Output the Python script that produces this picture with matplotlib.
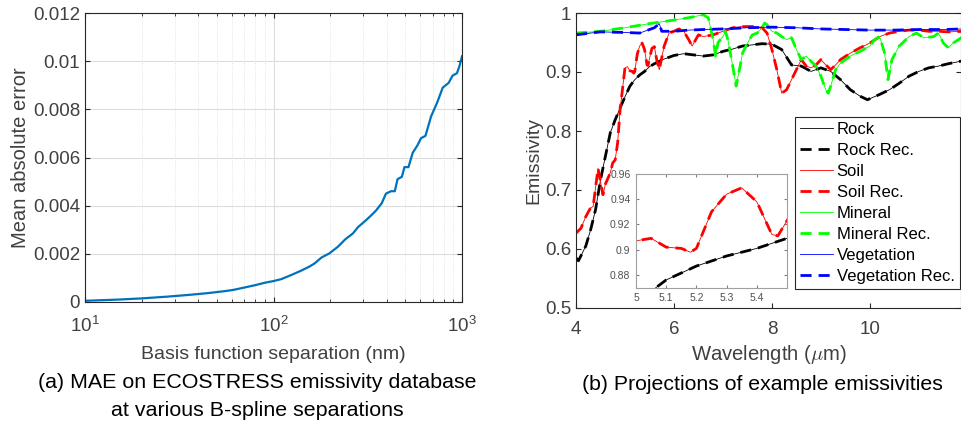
import numpy as np
import matplotlib.pyplot as plt

plt.rcParams['font.family'] = ['Liberation Sans', 'DejaVu Sans']
plt.rcParams['mathtext.fontset'] = 'cm'

# ---- (a) MAE vs B-spline separation
sep = [10, 15, 20, 27, 35, 45, 55, 61, 70, 80, 90, 100, 110, 125, 140, 155, 165, 180,
       198, 220, 240, 264, 280, 310, 330, 350, 375, 395, 420, 440, 455, 480, 495, 520,
       548, 580, 606, 640, 685, 740, 790, 850, 891, 940, 970, 1000]
mae = [0.00005, 0.0001, 0.00015, 0.00022, 0.00029, 0.00037, 0.00045, 0.0005, 0.0006,
       0.0007, 0.0008, 0.00087, 0.00095, 0.00113, 0.0013, 0.00147, 0.0016, 0.00185,
       0.00202, 0.0023, 0.0026, 0.00285, 0.0031, 0.0034, 0.0036, 0.0038, 0.0041, 0.0045,
       0.0046, 0.0046, 0.0051, 0.0052, 0.0056, 0.0056, 0.0062, 0.0065, 0.0068, 0.0069,
       0.0077, 0.0083, 0.0089, 0.0091, 0.0094, 0.0095, 0.0098, 0.0102]

# ---- (b) emissivity spectra (wavelength in um)
rock_wl = [4.0, 4.05, 4.2, 4.3, 4.4, 4.5, 4.6, 4.7, 4.8, 4.9, 5.0, 5.1, 5.2, 5.3, 5.4, 5.5,
           5.6, 5.8, 6.0, 6.2, 6.4, 6.6, 6.8, 7.0, 7.2, 7.4, 7.6, 7.8, 8.0, 8.2, 8.4, 8.6,
           8.8, 9.0, 9.2, 9.4, 9.6, 9.8, 9.95, 10.2, 10.4, 10.6, 10.8, 11.0, 11.2, 11.4,
           11.6, 11.9]
rock = [0.585, 0.58, 0.605, 0.633, 0.667, 0.717, 0.757, 0.797, 0.819, 0.839, 0.858, 0.876,
        0.887, 0.895, 0.901, 0.909, 0.914, 0.922, 0.928, 0.931, 0.929, 0.927, 0.929, 0.935,
        0.939, 0.944, 0.946, 0.948, 0.947, 0.938, 0.912, 0.91, 0.901, 0.907, 0.901, 0.887,
        0.87, 0.859, 0.853, 0.862, 0.87, 0.881, 0.893, 0.901, 0.907, 0.91, 0.914, 0.919]

soil_wl = [4.0, 4.1, 4.2, 4.3, 4.35, 4.45, 4.55, 4.6, 4.7, 4.75, 4.8, 4.85, 4.9, 5.0,
           5.05, 5.1, 5.15, 5.18, 5.2, 5.25, 5.3, 5.35, 5.4, 5.45, 5.47, 5.5, 5.55, 5.6,
           5.65, 5.7, 5.8, 5.9, 6.0, 6.1, 6.2, 6.3, 6.37, 6.5, 6.6, 6.8, 7.0, 7.2, 7.4,
           7.6, 7.8, 7.9, 8.0, 8.1, 8.2, 8.3, 8.4, 8.5, 8.6, 8.7, 8.8, 8.9, 9.0, 9.1, 9.2,
           9.3, 9.4, 9.6, 9.8, 10.0, 10.2, 10.4, 10.6, 10.8, 11.0, 11.2, 11.4, 11.6, 11.9]
soil = [0.627, 0.635, 0.655, 0.67, 0.672, 0.737, 0.692, 0.71, 0.729, 0.746, 0.751, 0.78,
        0.836, 0.907, 0.909, 0.902, 0.901, 0.898, 0.901, 0.93, 0.944, 0.949, 0.938, 0.912,
        0.911, 0.923, 0.94, 0.943, 0.92, 0.904, 0.944, 0.966, 0.969, 0.973, 0.969, 0.955,
        0.944, 0.963, 0.96, 0.963, 0.969, 0.975, 0.977, 0.977, 0.975, 0.966, 0.938, 0.904,
        0.864, 0.87, 0.887, 0.904, 0.921, 0.91, 0.907, 0.912, 0.921, 0.912, 0.904, 0.912,
        0.921, 0.932, 0.941, 0.949, 0.96, 0.966, 0.969, 0.971, 0.971, 0.969, 0.969, 0.968,
        0.969]

mineral_wl = [4.0, 4.5, 5.0, 5.5, 6.0, 6.3, 6.6, 6.7, 6.8, 6.85, 6.9, 7.0, 7.05, 7.1, 7.2,
              7.27, 7.35, 7.4, 7.5, 7.6, 7.7, 7.8, 7.85, 7.9, 8.0, 8.1, 8.2, 8.3, 8.4, 8.5,
              8.6, 8.7, 8.8, 8.9, 9.0, 9.1, 9.15, 9.2, 9.3, 9.4, 9.6, 9.8, 10.0, 10.1, 10.2,
              10.3, 10.37, 10.45, 10.6, 10.8, 10.95, 11.1, 11.3, 11.4, 11.5, 11.6, 11.7, 11.9]
mineral = [0.966, 0.969, 0.975, 0.982, 0.988, 0.992, 0.997, 0.992, 0.955, 0.927, 0.95, 0.96,
           0.969, 0.955, 0.91, 0.876, 0.91, 0.932, 0.949, 0.963, 0.966, 0.975, 0.983, 0.98,
           0.969, 0.966, 0.96, 0.955, 0.958, 0.938, 0.921, 0.927, 0.918, 0.91, 0.893, 0.87,
           0.864, 0.876, 0.904, 0.915, 0.927, 0.935, 0.944, 0.955, 0.96, 0.932, 0.887, 0.921,
           0.944, 0.96, 0.966, 0.958, 0.96, 0.966, 0.949, 0.941, 0.949, 0.96]

veg_wl = [4.0, 4.5, 5.0, 5.3, 5.6, 5.7, 5.75, 6.0, 6.3, 6.6, 7.0, 7.5, 8.0, 8.5, 9.0, 9.5,
          10.0, 10.5, 11.0, 11.5, 11.9]
veg = [0.963, 0.968, 0.967, 0.966, 0.975, 0.982, 0.969, 0.969, 0.971, 0.972, 0.973, 0.975,
       0.976, 0.975, 0.973, 0.972, 0.971, 0.971, 0.972, 0.972, 0.973]

tick_col = '#262626'
lab_col = '#404040'
fig = plt.figure(figsize=(9.61, 4.24), dpi=100)

# ---------- left panel
ax1 = fig.add_axes([85 / 961, 1 - 302 / 424, 377 / 961, 289 / 424])
ax1.plot(sep, mae, color='#0072BD', lw=1.6)
ax1.set_xscale('log')
ax1.set_xlim(10, 1000)
ax1.set_ylim(0, 0.012)
ax1.set_yticks([0, 0.002, 0.004, 0.006, 0.008, 0.01, 0.012])
ax1.set_yticklabels(['0', '0.002', '0.004', '0.006', '0.008', '0.01', '0.012'])
ax1.grid(True, which='major', color='#dcdcdc', lw=0.8)
ax1.grid(True, which='minor', axis='x', color='#dcdcdc', lw=0.6, ls=':')
ax1.set_axisbelow(True)
ax1.tick_params(which='both', direction='in', top=True, right=True, labelsize=13.5,
                colors=tick_col, labelcolor=lab_col)
ax1.tick_params(axis='x', which='both', pad=10)
ax1.tick_params(which='minor', length=2)
ax1.set_xlabel('Basis function separation (nm)', fontsize=14, color=lab_col, labelpad=7)
ax1.set_ylabel('Mean absolute error', fontsize=14.5, color=lab_col, labelpad=2)
for s in ax1.spines.values():
    s.set_color(tick_col)
    s.set_linewidth(0.8)

fig.text(257 / 961, 1 - 383 / 424, '(a) MAE on ECOSTRESS emissivity database',
         ha='center', va='center', fontsize=15.4)
fig.text(257 / 961, 1 - 410 / 424, 'at various B-spline separations',
         ha='center', va='center', fontsize=15.4)

# ---------- right panel
ax2 = fig.add_axes([576 / 961, 1 - 308 / 424, 385 / 961, 295 / 424])
specs = [(rock_wl, rock, 'k', 'Rock'), (soil_wl, soil, 'r', 'Soil'),
         (mineral_wl, mineral, '#00ff00', 'Mineral'), (veg_wl, veg, 'b', 'Vegetation')]
for wl, e, c, name in specs:
    ax2.plot(wl, e, color=c, lw=0.6, label=name)
    ax2.plot(wl, e, color=c, lw=2.0, ls=(0, (4, 2.5)), label=name + ' Rec.')
ax2.set_xlim(4, 11.86)
ax2.set_ylim(0.5, 1)
ax2.set_xticks([4, 6, 8, 10])
ax2.set_yticks([0.5, 0.6, 0.7, 0.8, 0.9, 1])
ax2.set_yticklabels(['0.5', '0.6', '0.7', '0.8', '0.9', '1'])
ax2.tick_params(direction='in', top=True, right=True, labelsize=13.5,
                colors=tick_col, labelcolor=lab_col)
ax2.tick_params(axis='x', pad=9)
ax2.set_xlabel(r'Wavelength ($\mu$m)', fontsize=14.6, color=lab_col, labelpad=4)
ax2.set_ylabel('Emissivity', fontsize=14, color=lab_col, labelpad=2)
for s in ax2.spines.values():
    s.set_color(tick_col)
    s.set_linewidth(0.8)
leg = ax2.legend(loc='upper left', bbox_to_anchor=((795 - 576) / 385, (308 - 117) / 295),
                 fontsize=12, handlelength=2.0, handletextpad=0.2, labelspacing=0.36,
                 borderpad=0.3, fancybox=False, framealpha=1, borderaxespad=0)
leg.get_frame().set_edgecolor(tick_col)
leg.get_frame().set_linewidth(0.8)

fig.text(762 / 961, 1 - 384 / 424, '(b) Projections of example emissivities',
         ha='center', va='center', fontsize=15.3)

# ---------- inset
ax3 = fig.add_axes([636 / 961, 1 - 287.5 / 424, 151 / 961, 113.5 / 424])
for wl, e, c, name in specs[:2]:
    ax3.plot(wl, e, color=c, lw=0.6)
    ax3.plot(wl, e, color=c, lw=2.0, ls=(0, (4, 2.5)))
ax3.set_xlim(5, 5.5)
ax3.set_ylim(0.87, 0.96)
ax3.set_xticks([5, 5.1, 5.2, 5.3, 5.4])
ax3.set_xticklabels(['5', '5.1', '5.2', '5.3', '5.4'])
ax3.set_yticks([0.88, 0.9, 0.92, 0.94, 0.96])
ax3.set_yticklabels(['0.88', '0.9', '0.92', '0.94', '0.96'])
ax3.tick_params(direction='in', top=True, right=True, labelsize=7.5, length=2.5,
                colors='#808080', labelcolor='#505050', pad=4)
for s in ax3.spines.values():
    s.set_color('#a0a0a0')
    s.set_linewidth(0.8)

fig.savefig('out.png', dpi=100)
